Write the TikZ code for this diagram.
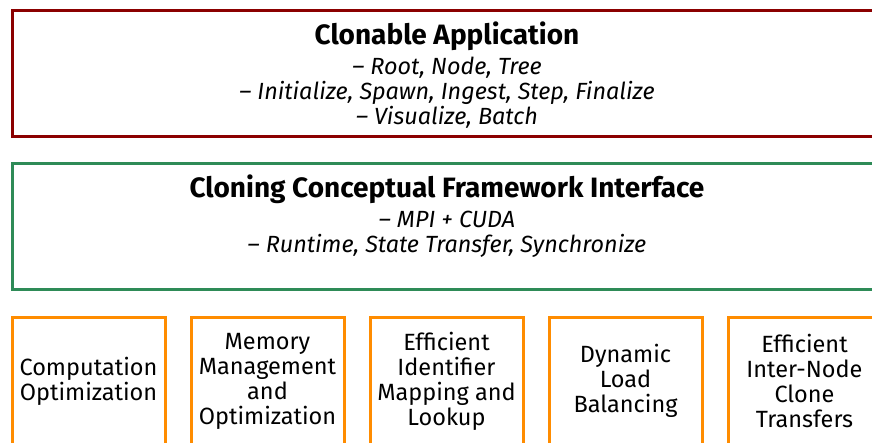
\documentclass[tikz,border=0pt]{standalone}
\usepackage{fontspec}
\setmainfont{Fira Sans}
\usetikzlibrary{positioning}

\definecolor{appred}{RGB}{139,0,0}
\definecolor{ifacegreen}{RGB}{46,139,87}
\definecolor{partorange}{RGB}{255,140,0}

\tikzset{
  layer/.style={draw, line width=3pt, outer sep=0pt, inner sep=0pt,
    minimum width=870pt, minimum height=126pt},
  part/.style={draw=partorange, line width=3pt, outer sep=0pt, inner sep=0pt,
    minimum width=153pt, minimum height=128pt, align=center,
    font=\fontsize{23.5}{25}\selectfont},
  heading/.style={font=\fontsize{28}{30}\selectfont\bfseries, inner sep=0pt},
  items/.style={font=\fontsize{23.4}{25}\selectfont\itshape, align=center, inner sep=0pt}
}

\begin{document}
\begin{tikzpicture}[x=1pt, y=-1pt]
  \useasboundingbox (0, 0) rectangle (872, 442);
  \clip (0, 0) rectangle (872, 442);

  % application layer
  \node [layer, draw=appred, anchor=north west] (app) at (12, 10) {};
  \node [heading, below=12pt of app.north] (apptitle) {Clonable Application};
  \node [items, below=5pt of apptitle] (appitems)
    {-- Root, Node, Tree\\-- Initialize, Spawn, Ingest, Step, Finalize\\-- Visualize, Batch};

  % framework interface
  \node [layer, draw=ifacegreen, below=27pt of app] (iface) {};
  \node [heading, below=12pt of iface.north] (ifacetitle) {Cloning Conceptual Framework Interface};
  \node [items, below=7pt of ifacetitle] (ifaceitems)
    {-- MPI + CUDA\\-- Runtime, State Transfer, Synchronize};

  % components
  \foreach \name/\label [count=\i from 0] in {%
      compopt/{Computation\\Optimization},
      memopt/{Memory\\Management\\and\\Optimization},
      idmap/{Efficient\\Identifier\\Mapping and\\Lookup},
      loadbal/{Dynamic\\Load\\Balancing},
      transfer/{Efficient\\Inter-Node\\Clone\\Transfers}}
    \node [part, anchor=north west] (\name) at (12 + 179*\i, 317) {\label};
\end{tikzpicture}
\end{document}
